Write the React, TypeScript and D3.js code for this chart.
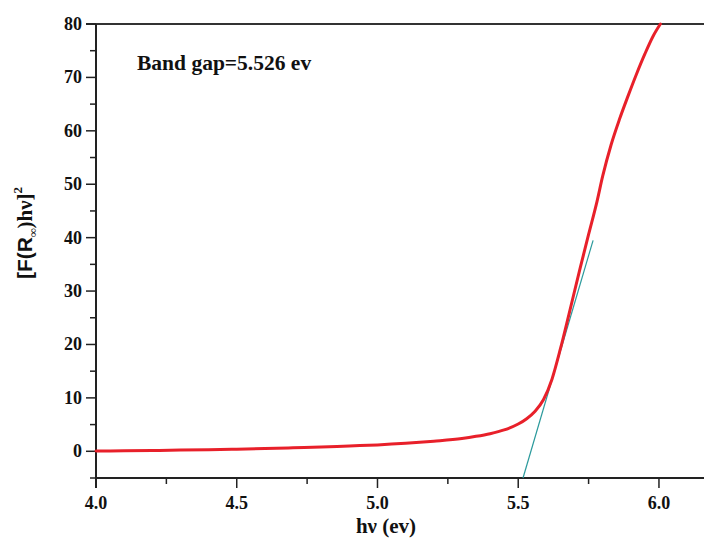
import React from 'react';
import * as d3 from 'd3';

// photon energy (eV) and [F(R∞)hν]²
const hv = [4.0, 4.1, 4.2, 4.3, 4.4, 4.5, 4.6, 4.7, 4.8, 4.9, 5.0, 5.1, 5.2, 5.3, 5.35, 5.4, 5.45, 5.5, 5.53, 5.56, 5.59, 5.62, 5.65, 5.68, 5.72, 5.75, 5.78, 5.8, 5.83, 5.86, 5.89, 5.92, 5.95, 5.98, 6.005];
const signal = [0.05, 0.1, 0.15, 0.22, 0.3, 0.4, 0.5, 0.65, 0.8, 1.0, 1.2, 1.5, 1.9, 2.4, 2.8, 3.3, 4.0, 5.1, 6.1, 7.5, 9.7, 13.5, 19.2, 25.6, 34.3, 40.6, 46.8, 51.5, 57.4, 62.2, 66.5, 70.6, 74.4, 77.8, 80];

// linear fit used for the band gap
const tangentHv = [5.517, 5.766];
const tangentSignal = [-5, 39.5];

const xMajor = [4.0, 4.5, 5.0, 5.5, 6.0];
const xMinor = [4.25, 4.75, 5.25, 5.75];
const yMajor = [0, 10, 20, 30, 40, 50, 60, 70, 80];
const yMinor = [-5, 5, 15, 25, 35, 45, 55, 65, 75];

const W = 704;
const H = 538;
const left = 96;
const top = 24;
const bottom = 478;

const serif = '"Liberation Serif", "Times New Roman", serif';
const sans = '"Liberation Sans", Arial, sans-serif';

export default function App() {
  const x = d3.scaleLinear().domain([4.0, 6.16]).range([left, W]);
  const y = d3.scaleLinear().domain([-5, 80]).range([bottom, top]);

  const curve = d3.line<number>()
    .x((d, i) => x(hv[i]))
    .y(d => y(d))
    .curve(d3.curveMonotoneX)(signal);

  const fit = d3.line<number>()
    .x((d, i) => x(tangentHv[i]))
    .y(d => y(d))(tangentSignal);

  return (
    <svg width={W} height={H} style={{ position: 'absolute', left: 0, top: 0, background: '#fff' }}>
      <rect width={W} height={H} fill="#fff" />

      {/* frame */}
      <line x1={left - 10} x2={W} y1={top} y2={top} stroke="#333" strokeWidth={2} />
      <line x1={left} x2={W} y1={bottom} y2={bottom} stroke="#222" strokeWidth={2} />
      <line x1={left} x2={left} y1={top} y2={bottom + 10} stroke="#222" strokeWidth={2} />

      {/* x axis */}
      {xMajor.map(t => (
        <g key={'xm' + t}>
          <line x1={x(t)} x2={x(t)} y1={bottom} y2={bottom + 10} stroke="#222" strokeWidth={1.5} />
          <text x={x(t)} y={509} textAnchor="middle" fontFamily={serif} fontWeight="bold" fontSize={18} fill="#111">
            {t.toFixed(1)}
          </text>
        </g>
      ))}
      {xMinor.map(t => (
        <line key={'xn' + t} x1={x(t)} x2={x(t)} y1={bottom} y2={bottom + 6} stroke="#222" strokeWidth={1.5} />
      ))}
      <text x={386} y={533} textAnchor="middle" fontFamily={serif} fontWeight="bold" fontSize={21} fill="#111">
        hν (ev)
      </text>

      {/* y axis */}
      {yMajor.map(t => (
        <g key={'ym' + t}>
          <line x1={left - 10} x2={left} y1={y(t)} y2={y(t)} stroke="#222" strokeWidth={1.5} />
          <text x={82} y={y(t) + 6} textAnchor="end" fontFamily={serif} fontWeight="bold" fontSize={18} fill="#111">
            {t}
          </text>
        </g>
      ))}
      {yMinor.map(t => (
        <line key={'yn' + t} x1={left - 6} x2={left} y1={y(t)} y2={y(t)} stroke="#222" strokeWidth={1.5} />
      ))}
      <text transform="translate(32,233) rotate(-90)" textAnchor="middle" fontWeight="bold" fontSize={21} fill="#111">
        <tspan fontFamily={sans}>[F(R</tspan>
        <tspan fontFamily={serif} fontSize={12} dy={5}>∞</tspan>
        <tspan fontFamily={serif} dy={-5}>)hν]</tspan>
        <tspan fontFamily={serif} fontSize={13} dy={-10}>2</tspan>
      </text>

      {/* data */}
      <path d={fit || ''} fill="none" stroke="#2b9a9c" strokeWidth={1.2} />
      <path d={curve || ''} fill="none" stroke="#e8202a" strokeWidth={3} strokeLinejoin="round" strokeLinecap="round" />

      <text x={137} y={70} fontFamily={serif} fontWeight="bold" fontSize={21.5} fill="#111">
        Band gap=5.526 ev
      </text>
    </svg>
  );
}
